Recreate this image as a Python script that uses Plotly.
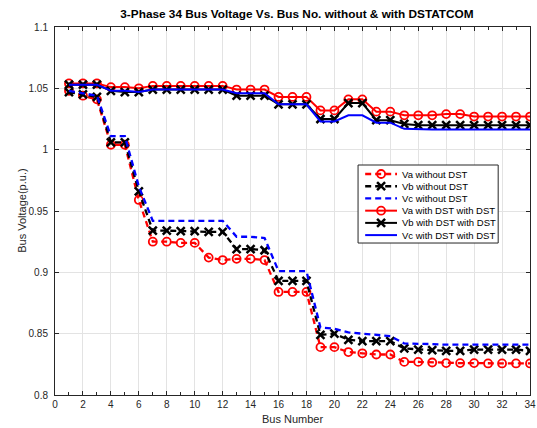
import plotly.graph_objects as go

bus = list(range(1, 35))

# without DSTATCOM
va_without = [1.048, 1.044, 1.041, 1.004, 1.004, 0.959, 0.925, 0.925, 0.924, 0.924,
              0.912, 0.910, 0.911, 0.911, 0.910, 0.884, 0.884, 0.884, 0.839, 0.839,
              0.835, 0.834, 0.833, 0.833, 0.827, 0.827, 0.8265, 0.826, 0.826, 0.826,
              0.8257, 0.8257, 0.8257, 0.8257]
vb_without = [1.047, 1.045, 1.043, 1.006, 1.006, 0.966, 0.934, 0.934, 0.9335, 0.9335,
              0.933, 0.933, 0.919, 0.919, 0.918, 0.893, 0.893, 0.893, 0.849, 0.850,
              0.845, 0.844, 0.844, 0.844, 0.838, 0.837, 0.8365, 0.836, 0.836, 0.837,
              0.837, 0.837, 0.837, 0.836]
vc_without = [1.048, 1.046, 1.044, 1.011, 1.011, 0.970, 0.942, 0.942, 0.942, 0.942,
              0.942, 0.942, 0.929, 0.929, 0.928, 0.901, 0.901, 0.901, 0.855, 0.854,
              0.851, 0.850, 0.849, 0.848, 0.842, 0.842, 0.8415, 0.841, 0.841, 0.841,
              0.841, 0.841, 0.841, 0.841]

# with DSTATCOM
va_with = [1.054, 1.054, 1.054, 1.051, 1.051, 1.050, 1.052, 1.052, 1.052, 1.052,
           1.052, 1.052, 1.049, 1.049, 1.049, 1.043, 1.043, 1.043, 1.032, 1.032,
           1.041, 1.041, 1.031, 1.031, 1.028, 1.028, 1.028, 1.029, 1.029, 1.027,
           1.027, 1.027, 1.027, 1.027]
vb_with = [1.053, 1.053, 1.053, 1.048, 1.047, 1.047, 1.049, 1.049, 1.049, 1.049,
           1.049, 1.049, 1.044, 1.044, 1.044, 1.037, 1.037, 1.037, 1.025, 1.025,
           1.038, 1.038, 1.024, 1.024, 1.021, 1.020, 1.020, 1.020, 1.020, 1.020,
           1.020, 1.020, 1.020, 1.020]
vc_with = [1.053, 1.053, 1.053, 1.048, 1.048, 1.047, 1.049, 1.049, 1.049, 1.049,
           1.049, 1.049, 1.046, 1.046, 1.046, 1.037, 1.037, 1.037, 1.023, 1.023,
           1.028, 1.028, 1.022, 1.022, 1.017, 1.0165, 1.0165, 1.0165, 1.0165, 1.0165,
           1.0165, 1.0165, 1.0165, 1.0165]

FONT = "Liberation Sans, Arial, Helvetica, sans-serif"
AX = "#262626"
DASH = "6px,4px"

circle = dict(symbol="circle-open", size=8, line=dict(width=1.8))
cross = dict(symbol="x-thin-open", size=8, line=dict(width=2.5))

# (name, values, colour, dashed, marker)
series = [
    ("Va without DST", va_without, "red", True, circle),
    ("Vb without DST", vb_without, "black", True, cross),
    ("Vc without DST", vc_without, "blue", True, None),
    ("Va with DST with DST", va_with, "red", False, circle),
    ("Vb with DST with DST", vb_with, "black", False, cross),
    ("Vc with DST with DST", vc_with, "blue", False, None),
]

fig = go.Figure()

for name, vals, color, dashed, mk in series:
    line = dict(color=color, width=2.3 if dashed else 2, dash=DASH if dashed else "solid")
    if mk:
        fig.add_scatter(x=bus, y=vals, name=name, mode="lines+markers", line=line,
                        marker=dict(color=color, **mk), showlegend=False)
    else:
        fig.add_scatter(x=bus, y=vals, name=name, mode="lines", line=line, showlegend=False)

# legend box drawn on an overlaid unit axis so it sits above the data
box_x0, box_x1, box_y0, box_y1 = 0.638, 0.933, 0.413, 0.625
fig.add_scatter(x=[box_x0, box_x1, box_x1, box_x0, box_x0],
                y=[box_y0, box_y0, box_y1, box_y1, box_y0],
                xaxis="x2", yaxis="y2", mode="lines", fill="toself",
                fillcolor="white", line=dict(color=AX, width=1),
                hoverinfo="skip", showlegend=False)

row_top, row_step = 0.6005, 0.0332
for i, (name, vals, color, dashed, mk) in enumerate(series):
    ry = row_top - i * row_step
    line = dict(color=color, width=2.3 if dashed else 2, dash=DASH if dashed else "solid")
    fig.add_scatter(x=[0.653, 0.72], y=[ry, ry], xaxis="x2", yaxis="y2", mode="lines",
                    line=line, hoverinfo="skip", showlegend=False)
    if mk:
        fig.add_scatter(x=[0.6865], y=[ry], xaxis="x2", yaxis="y2", mode="markers",
                        marker=dict(color=color, **mk), hoverinfo="skip", showlegend=False)
    fig.add_annotation(x=0.726, y=ry, xref="x2", yref="y2", text=name, showarrow=False,
                       xanchor="left", yanchor="middle",
                       font=dict(size=9.5, color="black", family=FONT))

axis_common = dict(
    showline=True, linecolor=AX, linewidth=1, mirror="ticks",
    ticks="inside", ticklen=4, tickcolor=AX,
    showgrid=True, gridcolor="#e3e3e3", gridwidth=1,
    zeroline=False, automargin=False,
    tickfont=dict(size=10, color=AX, family=FONT),
)

fig.update_layout(
    xaxis=dict(range=[0, 34], dtick=2, tick0=0,
               minor=dict(ticks="inside", dtick=1, ticklen=3, tickcolor=AX, showgrid=False),
               **axis_common),
    yaxis=dict(range=[0.8, 1.1], dtick=0.05, tick0=0.8, ticklabelstandoff=4, **axis_common),
    xaxis2=dict(overlaying="x", anchor="y2", range=[0, 1], visible=False, fixedrange=True),
    yaxis2=dict(overlaying="y", anchor="x2", range=[0, 1], visible=False, fixedrange=True),
)

fig.add_annotation(text="Bus Number", xref="paper", yref="paper", x=0.5, y=-0.065,
                   showarrow=False, xanchor="center", yanchor="middle",
                   font=dict(size=11, color=AX, family=FONT))
fig.add_annotation(text="Bus Voltage(p.u.)", xref="paper", yref="paper", x=-0.07, y=0.5,
                   showarrow=False, textangle=-90, xanchor="center", yanchor="middle",
                   font=dict(size=11, color=AX, family=FONT))

fig.update_layout(
    width=537, height=428,
    paper_bgcolor="white", plot_bgcolor="white",
    font=dict(family=FONT, size=10, color="black"),
    title=dict(text="<b>3-Phase 34 Bus Voltage Vs. Bus No. without & with DSTATCOM</b>",
               x=0.553, xanchor="center", xref="container",
               y=1 - 14 / 428, yanchor="middle", yref="container",
               font=dict(size=11.8, color="black", family=FONT)),
    showlegend=False,
    margin=dict(l=55, r=7, t=27, b=33),
)

# drop the default 8px page margin so the figure fills the window exactly
fig.write_html("out.html", config={"displayModeBar": False},
               post_script="document.body.style.margin = '0';")
